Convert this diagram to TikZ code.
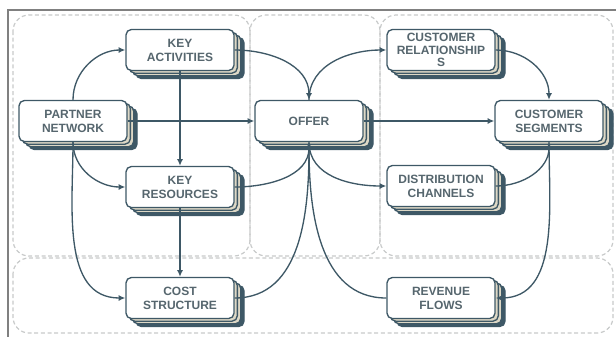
\documentclass[tikz,border=0pt]{standalone}
\usepackage{fontspec}
\setmainfont{Liberation Sans}
\usetikzlibrary{arrows.meta,shadows}

\definecolor{slate}{HTML}{3E5866}
\definecolor{labelgray}{HTML}{56666E}
\definecolor{stackbeige}{HTML}{DDD8C6}
\definecolor{panelgray}{HTML}{C8CACA}

\tikzset{
  block/.style={draw=slate, line width=1pt, fill=white, rounded corners=4pt,
    minimum width=81pt, minimum height=30.75pt, inner sep=1pt, align=center,
    text=labelgray, font=\fontsize{9}{10.4}\selectfont\bfseries,
    copy shadow={shadow xshift=7.5pt, shadow yshift=-6pt, fill=slate, draw=slate},
    copy shadow={shadow xshift=5pt, shadow yshift=-4pt, fill=stackbeige, draw=slate},
    copy shadow={shadow xshift=2.5pt, shadow yshift=-2pt, fill=stackbeige, draw=slate}},
  link/.style={draw=slate, line width=1pt, -{Latex[length=5pt,width=4.5pt]}},
  panel/.style={draw=panelgray, densely dashed, line width=0.9pt, rounded corners=12pt}
}

\begin{document}
\begin{tikzpicture}[x=0.75pt,y=0.75pt,yscale=-1,xscale=1]
\useasboundingbox (0,0) rectangle (616,337);

%Frame
\draw [draw=gray, line width=0.8pt] (616,10) -- (8,10) -- (8,337) ;

%Shape: Panels
\draw [panel] (13,15) rectangle (250,256) ;
\draw [panel] (250,15) rectangle (380,256) ;
\draw [panel] (380,15) rectangle (613,256) ;
\draw [panel] (13,258) rectangle (613,333) ;

% Blocks
\node [block] (keyact) at (180,50) {KEY\\ACTIVITIES};
\node [block] (partner) at (73,121) {PARTNER\\NETWORK};
\node [block] (keyres) at (180,187) {KEY\\RESOURCES};
\node [block] (cost) at (180,298) {COST\\STRUCTURE};
\node [block] (offer) at (309,121) {OFFER};
\node [block, font=\fontsize{9}{9.6}\selectfont\bfseries] (custrel) at (441,50) {CUSTOMER\\RELATIONSHIP\\S};
\node [block] (custseg) at (549,121) {CUSTOMER\\SEGMENTS};
\node [block] (distrib) at (441,186) {DISTRIBUTION\\CHANNELS};
\node [block] (revenue) at (441,298) {REVENUE\\FLOWS};

% Links (yscale=-1: -90 points up the page)
\draw [link] (partner.north) to[out=-90,in=180] (keyact.west) ;
\draw [link] (partner.east) -- (offer.west) ;
\draw [link] (partner.south) to[out=90,in=180] (keyres.west) ;
\draw [link] (partner.south) to[out=90,in=180] (cost.west) ;
\draw [link] (keyact.south) -- (keyres.north) ;
\draw [link] (keyres.south) -- (cost.north) ;
\draw [link] (keyact.east) to[out=0,in=-90] (offer.north) ;
\draw [link] (keyres.east) to[out=0,in=90] (offer.south) ;
\draw [link] (cost.east) to[out=0,in=90] (offer.south) ;
\draw [link] (revenue.west) to[out=180,in=90] (offer.south) ;
\draw [link] (offer.north) to[out=-90,in=180] (custrel.west) ;
\draw [link] (offer.east) -- (custseg.west) ;
\draw [link] (offer.south) to[out=90,in=180] (distrib.west) ;
\draw [link] (custrel.east) to[out=0,in=-90] (custseg.north) ;
\draw [link] (distrib.east) to[out=0,in=90] (custseg.south) ;
\draw [link] (custseg.south) to[out=90,in=0] (revenue.east) ;

\end{tikzpicture}
\end{document}
